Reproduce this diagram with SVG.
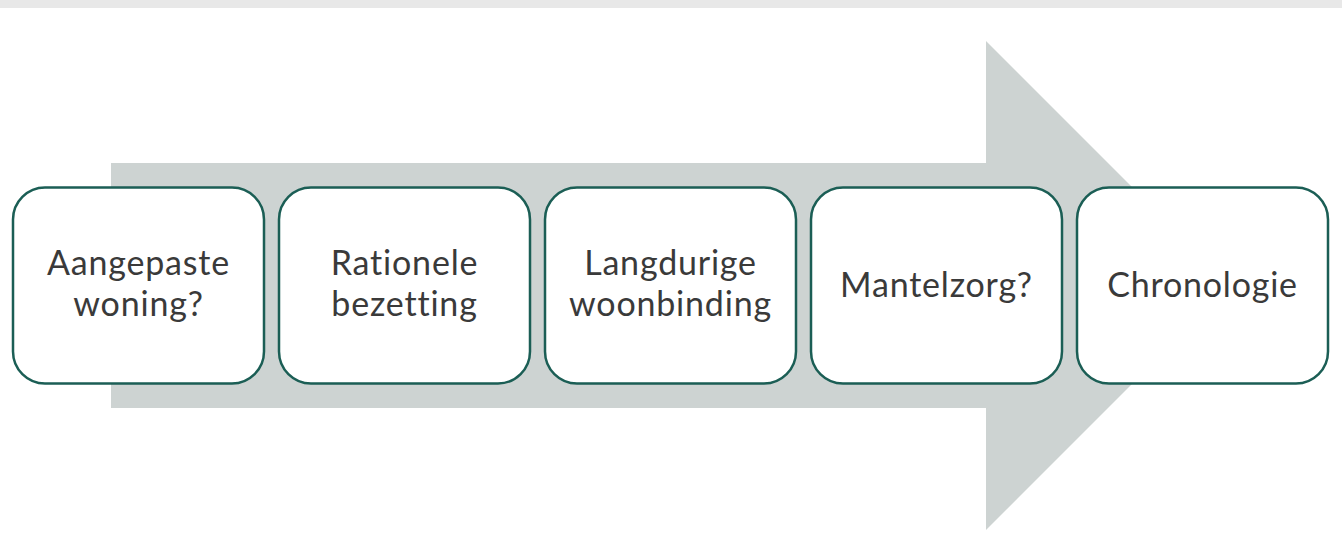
<svg xmlns="http://www.w3.org/2000/svg" width="1342" height="546" viewBox="0 0 1342 546">
<style>
.box{fill:#ffffff;stroke:#1b5e55;stroke-width:2.5}
.lbl{font-family:Lato,"Noto Sans",sans-serif;font-size:34px;letter-spacing:0.8px;font-variant-ligatures:none;fill:#3a3a3a;text-anchor:middle}
</style>
<rect x="0" y="0" width="1342" height="546" fill="#ffffff"/>
<rect x="0" y="0" width="1342" height="8" fill="#e8e8e8"/>
<g id="connectors">
<polygon points="111,163 986,163 986,41 1230.5,285.5 986,530 986,408 111,408" fill="#cdd3d2"/>
</g>
<g id="node1">
<rect class="box" x="13" y="187.5" width="251" height="196" rx="32"/>
<text class="lbl" x="138.5" y="275">Aangepaste</text>
<text class="lbl" x="138.5" y="316">woning?</text>
</g>
<g id="node2">
<rect class="box" x="279" y="187.5" width="251" height="196" rx="32"/>
<text class="lbl" x="404.5" y="275">Rationele</text>
<text class="lbl" x="404.5" y="316">bezetting</text>
</g>
<g id="node3">
<rect class="box" x="545" y="187.5" width="251" height="196" rx="32"/>
<text class="lbl" x="670.5" y="275">Langdurige</text>
<text class="lbl" x="670.5" y="316">woonbinding</text>
</g>
<g id="node4">
<rect class="box" x="811" y="187.5" width="251" height="196" rx="32"/>
<text class="lbl" x="936.5" y="297">Mantelzorg?</text>
</g>
<g id="node5">
<rect class="box" x="1077" y="187.5" width="251" height="196" rx="32"/>
<text class="lbl" x="1202.5" y="297">Chronologie</text>
</g>
</svg>
